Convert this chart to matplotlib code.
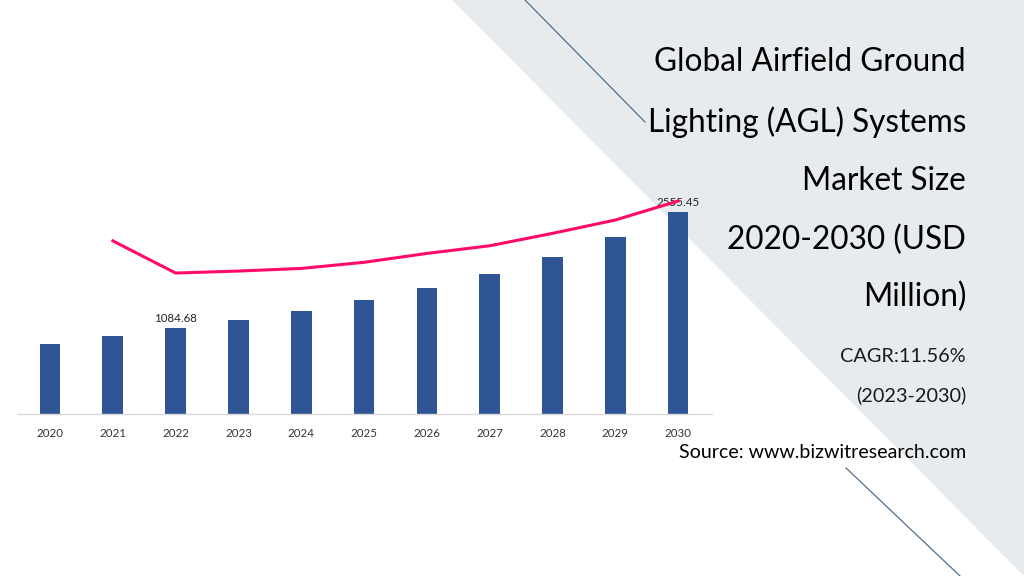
import matplotlib
matplotlib.use("Agg")
import matplotlib.pyplot as plt
from matplotlib.patches import Polygon

plt.rcParams['font.family'] = ['Lato', 'DejaVu Sans']

# data
years = ['2020', '2021', '2022', '2023', '2024', '2025', '2026', '2027', '2028', '2029', '2030']
market_size = [891, 993, 1084.68, 1187, 1306, 1441, 1593, 1775, 1990, 2243, 2555.45]
growth_years = years[1:]
growth = [11.3, 9.2, 9.33, 9.5, 9.9, 10.48, 10.98, 11.79, 12.66, 13.9]
labelled = {'2022': '1084.68', '2030': '2555.45'}

title_lines = ['Global Airfield Ground', 'Lighting (AGL) Systems', 'Market Size',
               '2020-2030 (USD', 'Million)']
cagr_lines = ['CAGR:11.56%', '(2023-2030)']
source = 'Source: www.bizwitresearch.com'

bar_color = '#2F5597'
line_color = '#FF0A68'
text_grey = '#333333'

fig = plt.figure(figsize=(10.24, 5.76), dpi=100)
fig.patch.set_facecolor('white')

# background decoration in pixel coordinates
bg = fig.add_axes([0, 0, 1, 1], zorder=0)
bg.set_xlim(0, 1024)
bg.set_ylim(576, 0)
bg.axis('off')
bg.add_patch(Polygon([(452, 0), (1024, 0), (1024, 576)], closed=True,
                     facecolor='#E7EBEE', edgecolor='none'))
bg.plot([525, 645], [0, 122], color='#4F6F8F', lw=0.9)
bg.plot([846, 960], [468, 576], color='#4F6F8F', lw=0.9)

# bars
ax = fig.add_axes([18 / 1024, 1 - 414 / 576, 694 / 1024, 224 / 576], zorder=2)
ax.patch.set_alpha(0)
x = list(range(len(years)))
ax.bar(x, market_size, width=0.33, color=bar_color)
ax.set_xlim(-0.51, 10.54)
ax.set_ylim(0, 2839)
ax.set_xticks(x)
ax.set_xticklabels(years, fontsize=8.3, color=text_grey)
ax.tick_params(axis='x', length=0, pad=10)
ax.set_yticks([])
for s in ['top', 'right', 'left']:
    ax.spines[s].set_visible(False)
ax.spines['bottom'].set_color('#D9D9D9')
ax.spines['bottom'].set_linewidth(1)
for i, yr in enumerate(years):
    if yr in labelled:
        ax.text(i, market_size[i] + 50, labelled[yr], ha='center', va='bottom',
                fontsize=8.3, color='#222222', zorder=5)

# growth line on secondary axis
ax2 = ax.twinx()
ax2.plot([years.index(y) for y in growth_years], growth, color=line_color, lw=2.2)
ax2.set_ylim(0, 14.62)
ax2.set_yticks([])
for s in ['top', 'right', 'left', 'bottom']:
    ax2.spines[s].set_visible(False)

# right-hand text
ys = [62, 122, 181, 240, 297]
for t, yy in zip(title_lines, ys):
    bg.text(966, yy, t, ha='right', va='center', fontsize=22.7, color='black')
for t, yy in zip(cagr_lines, [357, 395]):
    bg.text(966, yy, t, ha='right', va='center', fontsize=14.3, color='#1a1a1a')
bg.text(966, 453, source, ha='right', va='center', fontsize=14.1, color='black')

fig.savefig('out.png', dpi=100)
